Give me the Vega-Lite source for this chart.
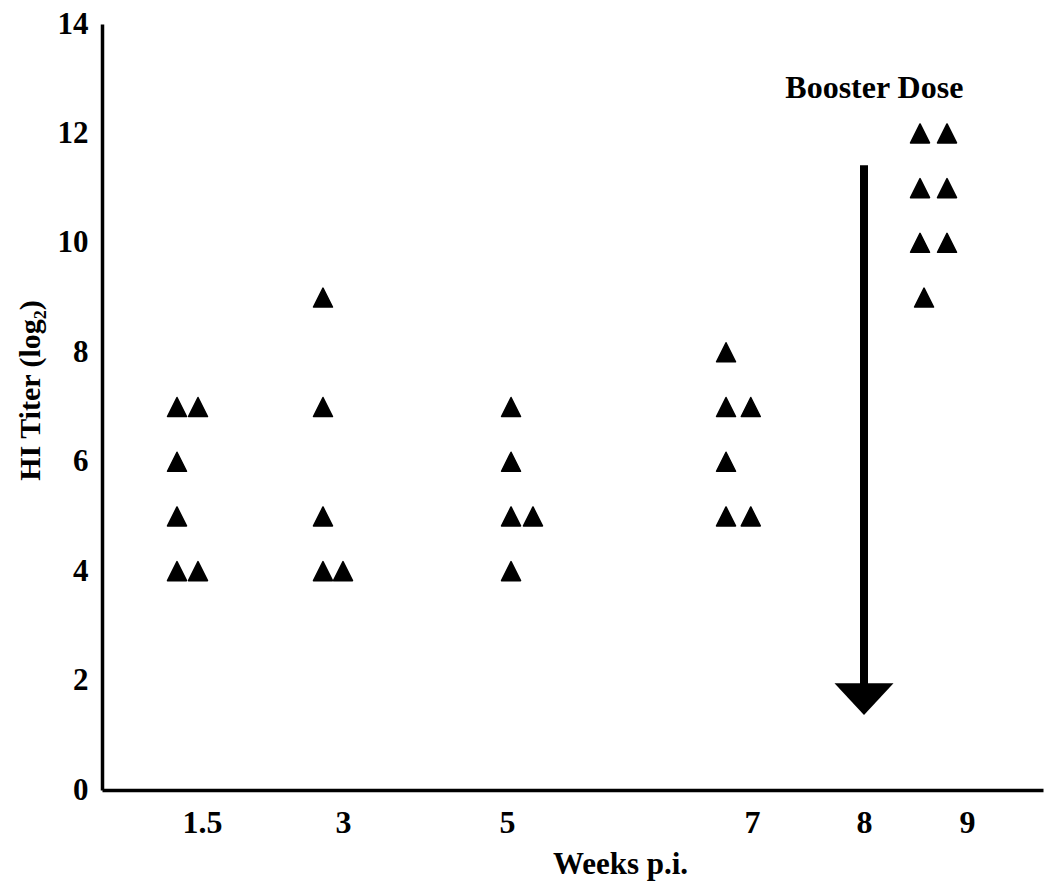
{
  "$schema": "https://vega.github.io/schema/vega-lite/v6.json",
  "width": 941,
  "height": 766,
  "autosize": "none",
  "padding": {"left": 102, "top": 24, "right": 7, "bottom": 91},
  "background": "white",
  "config": {
    "font": "Liberation Serif",
    "view": {"stroke": null},
    "axis": {"grid": false, "ticks": false, "tickSize": 0, "domainColor": "black", "domainWidth": 3.5, "labelColor": "black", "titleColor": "black", "labelFont": "Liberation Serif", "titleFont": "Liberation Serif", "labelFontWeight": "bold", "titleFontWeight": "bold"}
  },
  "datasets": {
    "obs": [
      {"week": 1.5, "pos": 1.225, "titer": 7},
      {"week": 1.5, "pos": 1.456, "titer": 7},
      {"week": 1.5, "pos": 1.225, "titer": 6},
      {"week": 1.5, "pos": 1.225, "titer": 5},
      {"week": 1.5, "pos": 1.225, "titer": 4},
      {"week": 1.5, "pos": 1.456, "titer": 4},
      {"week": 3, "pos": 2.787, "titer": 9},
      {"week": 3, "pos": 2.787, "titer": 7},
      {"week": 3, "pos": 2.787, "titer": 5},
      {"week": 3, "pos": 2.787, "titer": 4},
      {"week": 3, "pos": 3.0, "titer": 4},
      {"week": 5, "pos": 5.033, "titer": 7},
      {"week": 5, "pos": 5.033, "titer": 6},
      {"week": 5, "pos": 5.033, "titer": 5},
      {"week": 5, "pos": 5.212, "titer": 5},
      {"week": 5, "pos": 5.033, "titer": 4},
      {"week": 7, "pos": 6.788, "titer": 8},
      {"week": 7, "pos": 6.788, "titer": 7},
      {"week": 7, "pos": 6.99, "titer": 7},
      {"week": 7, "pos": 6.788, "titer": 6},
      {"week": 7, "pos": 6.788, "titer": 5},
      {"week": 7, "pos": 6.99, "titer": 5},
      {"week": 9, "pos": 8.544, "titer": 12},
      {"week": 9, "pos": 8.806, "titer": 12},
      {"week": 9, "pos": 8.544, "titer": 11},
      {"week": 9, "pos": 8.806, "titer": 11},
      {"week": 9, "pos": 8.544, "titer": 10},
      {"week": 9, "pos": 8.806, "titer": 10},
      {"week": 9, "pos": 8.583, "titer": 9}
    ],
    "booster": [
      {"week": 8, "top": 11.42, "bottom": 1.9, "head": 1.66, "labelPos": 8.1, "labelY": 12.65, "label": "Booster Dose"}
    ]
  },
  "layer": [
    {
      "data": {"name": "obs"},
      "mark": {"type": "point", "shape": "M0,-1L1,1L-1,1Z", "filled": true, "size": 361, "color": "black", "stroke": "black", "strokeWidth": 1.5, "strokeJoin": "round", "opacity": 1},
      "encoding": {
        "x": {
          "field": "pos", "type": "quantitative",
          "scale": {"domain": [0.4, 1.5, 3, 5, 7, 8, 9, 9.75], "range": [0, 100, 241, 405, 650, 762, 865, 941], "nice": false, "zero": false},
          "axis": {"values": [1.5, 3, 5, 7, 8, 9], "format": "~g", "labelFontSize": 32, "labelBaseline": "alphabetic", "labelPadding": 42, "labelFlush": false, "labelOverlap": false, "title": "Weeks p.i.", "titleFontSize": 31, "titleColor": "black", "titleBaseline": "alphabetic", "titleX": 518, "titleY": 83, "titleAnchor": "middle"}
        },
        "y": {
          "field": "titer", "type": "quantitative",
          "scale": {"domain": [0, 14], "nice": false},
          "axis": {"values": [0, 2, 4, 6, 8, 10, 12, 14], "format": "d", "labelFontSize": 31, "labelPadding": 14, "labelFlush": false, "labelOverlap": false, "title": "HI Titer (log₂)", "titleFontSize": 30, "titleColor": "black", "titlePadding": 12, "titleY": 366, "titleAnchor": "middle"}
        }
      }
    },
    {
      "data": {"name": "booster"},
      "mark": {"type": "rule", "strokeWidth": 8, "color": "black", "strokeCap": "butt"},
      "encoding": {
        "x": {"field": "week", "type": "quantitative"},
        "y": {"field": "top", "type": "quantitative"},
        "y2": {"field": "bottom"}
      }
    },
    {
      "data": {"name": "booster"},
      "mark": {"type": "point", "shape": "M-1,-0.54L1,-0.54L0,0.54Z", "filled": true, "size": 3481, "color": "black", "opacity": 1},
      "encoding": {
        "x": {"field": "week", "type": "quantitative"},
        "y": {"field": "head", "type": "quantitative"}
      }
    },
    {
      "data": {"name": "booster"},
      "mark": {"type": "text", "font": "Liberation Serif", "fontWeight": "bold", "fontSize": 32, "align": "center", "baseline": "alphabetic", "color": "black"},
      "encoding": {
        "x": {"field": "labelPos", "type": "quantitative"},
        "y": {"field": "labelY", "type": "quantitative"},
        "text": {"field": "label"}
      }
    }
  ]
}
